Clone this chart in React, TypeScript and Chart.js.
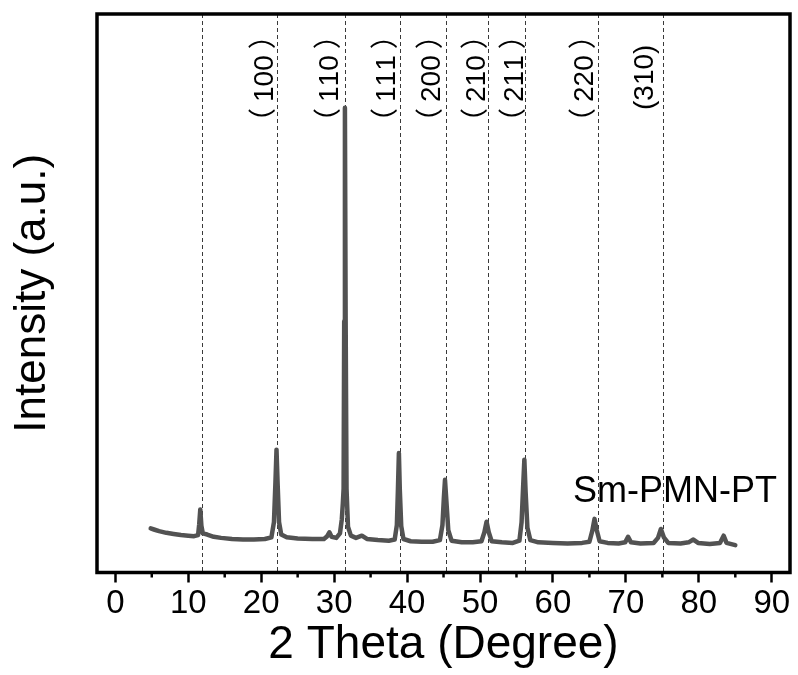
import { useEffect, useRef } from "react";
import { Chart, registerables } from "chart.js";

Chart.register(...registerables);

// ---- data ----
const twoTheta = [
  4.85, 5.3, 6.0, 7.0, 8.0, 9.0, 10.0, 10.8, 11.35, 11.5, 11.65, 11.8, 12.0, 12.6, 13.5, 14.5,
  16.0, 17.5, 19.0, 20.5, 21.4, 21.75, 21.95, 22.1, 22.25, 22.45, 22.75, 23.5, 25.0, 27.0, 28.6,
  29.05, 29.35, 29.65, 30.3, 30.8, 31.05, 31.2, 31.3, 31.38, 31.48, 31.58, 31.7, 31.9, 32.3, 33.0,
  33.8, 34.5, 36.0, 37.5, 38.3, 38.6, 38.75, 38.88, 39.0, 39.2, 39.5, 40.5, 42.0, 43.5, 44.5,
  44.85, 45.05, 45.2, 45.38, 45.65, 46.1, 47.5, 49.0, 50.2, 50.6, 50.9, 51.2, 51.6, 53.0, 54.5,
  55.4, 55.7, 55.9, 56.08, 56.25, 56.5, 56.9, 58.0, 60.0, 62.0, 64.0, 65.0, 65.4, 65.7, 66.0,
  66.4, 67.5, 69.0, 69.9, 70.3, 70.7, 72.0, 73.8, 74.4, 74.8, 75.2, 75.8, 77.5, 78.6, 79.25,
  79.9, 81.5, 82.9, 83.4, 83.8, 85.0,
];
const intensity = [
  7.9, 7.7, 7.4, 7.1, 6.9, 6.7, 6.6, 6.5, 6.7, 8.6, 11.3, 8.4, 7.0, 6.8, 6.4, 6.2,
  6.0, 5.9, 5.9, 6.0, 6.3, 9.0, 16.0, 22.0, 16.0, 9.0, 6.8, 6.3, 6.1, 6.0, 6.0,
  6.5, 7.2, 6.4, 6.2, 7.0, 9.5, 12.5, 15.0, 45.0, 83.2, 45.0, 15.0, 8.2, 6.6, 6.2,
  6.6, 6.0, 5.8, 5.7, 5.9, 8.5, 15.0, 21.4, 15.0, 8.3, 6.0, 5.6, 5.5, 5.5, 5.8,
  8.5, 13.5, 16.6, 13.0, 7.6, 5.7, 5.4, 5.4, 5.6, 7.2, 9.1, 7.2, 5.6, 5.4, 5.3,
  5.7, 9.0, 15.0, 20.2, 14.5, 8.0, 5.8, 5.4, 5.3, 5.2, 5.3, 5.5, 7.5, 9.6, 7.6,
  5.6, 5.3, 5.2, 5.4, 6.4, 5.4, 5.2, 5.3, 6.2, 7.8, 6.3, 5.3, 5.2, 5.4, 5.9,
  5.3, 5.1, 5.3, 6.6, 5.3, 4.9,
];

const xTickValues = [0, 10, 20, 30, 40, 50, 60, 70, 80, 90];
const xMinorTickValues = [5, 15, 25, 35, 45, 55, 65, 75, 85];
const refLines = [11.9, 22.13, 31.5, 39.04, 45.3, 51.15, 56.18, 66.15, 75.06];
const hklLabels = ["", "（100）", "（110）", "（111）", "（200）", "（210）", "（211）", "（220）", "(310)"];
const sampleName = "Sm-PMN-PT";
const xTitle = "2 Theta (Degree)";
const yTitle = "Intensity (a.u.)";

// ---- style ----
const FONT = '"Liberation Sans", sans-serif';
const CJK_FONT = '"Noto Sans CJK SC", sans-serif';
const labelDx = [0, -3.5, -7, -5, -5.7, -3, -2, -4.7, -9.7];
const labelAnchorY = [0, 136, 136, 136, 136, 136, 136, 136, 110];
const LABEL_SIZE = 28;
const BRACKET_GAP = 6;

const decor = {
  id: "decor",
  beforeDatasetsDraw(chart: any) {
    const { ctx, chartArea: a, scales } = chart;
    const x = scales.x;
    ctx.save();
    ctx.beginPath();
    ctx.rect(a.left, a.top, a.right - a.left, a.bottom - a.top);
    ctx.clip();
    ctx.strokeStyle = "#3a3a3a";
    ctx.lineWidth = 1;
    ctx.setLineDash([4, 3]);
    refLines.forEach((v) => {
      const px = Math.round(x.getPixelForValue(v)) + 0.5;
      ctx.beginPath();
      ctx.moveTo(px, a.top);
      ctx.lineTo(px, a.bottom);
      ctx.stroke();
    });
    ctx.restore();
  },
  afterDraw(chart: any) {
    const { ctx, chartArea: a, scales } = chart;
    const x = scales.x;
    const y = scales.y;
    ctx.save();
    // frame
    ctx.strokeStyle = "#000";
    ctx.lineWidth = 3.5;
    ctx.strokeRect(a.left, a.top, a.right - a.left, a.bottom - a.top);
    // minor ticks
    ctx.lineWidth = 2.5;
    xMinorTickValues.forEach((v) => {
      const px = x.getPixelForValue(v);
      ctx.beginPath();
      ctx.moveTo(px, a.bottom);
      ctx.lineTo(px, a.bottom + 5);
      ctx.stroke();
    });
    // hkl labels (full-width brackets from the CJK font, digits from Liberation Sans)
    ctx.fillStyle = "#000";
    ctx.textBaseline = "alphabetic";
    ctx.textAlign = "left";
    hklLabels.forEach((t, i) => {
      if (!t) return;
      const px = x.getPixelForValue(refLines[i]) + labelDx[i];
      ctx.save();
      ctx.translate(px, labelAnchorY[i]);
      ctx.rotate(-Math.PI / 2);
      let cx = 0;
      const chars = Array.from(t);
      chars.forEach((ch, k) => {
        const cjk = ch === "（" || ch === "）";
        if (ch === "）") cx += BRACKET_GAP;
        ctx.font = `${LABEL_SIZE}px ${cjk ? CJK_FONT : FONT}`;
        ctx.fillText(ch, cx, 0);
        cx += ctx.measureText(ch).width;
        if (ch === "（") cx += BRACKET_GAP;
      });
      ctx.restore();
    });
    // sample name
    ctx.font = `36px ${FONT}`;
    ctx.fillText(sampleName, x.getPixelForValue(62.76), y.getPixelForValue(12.6));
    // y title
    ctx.font = `44px ${FONT}`;
    ctx.textAlign = "center";
    ctx.textBaseline = "middle";
    ctx.save();
    ctx.translate(33, (a.top + a.bottom) / 2);
    ctx.rotate(-Math.PI / 2);
    ctx.fillText(yTitle, 0, 0);
    ctx.restore();
    ctx.restore();
  },
};

export default function App() {
  const ref = useRef<HTMLCanvasElement | null>(null);
  useEffect(() => {
    if (!ref.current) return;
    const chart = new Chart(ref.current, {
      type: "line",
      data: {
        datasets: [
          {
            data: twoTheta.map((v, i) => ({ x: v, y: intensity[i] })),
            borderColor: "#525252",
            borderWidth: 4.5,
            pointRadius: 0,
            tension: 0,
            borderJoinStyle: "round",
            borderCapStyle: "round",
            fill: false,
          },
        ],
      },
      options: {
        animation: false,
        responsive: true,
        maintainAspectRatio: false,
        layout: { padding: { left: 97, top: 14, right: 8, bottom: 0 } },
        plugins: { legend: { display: false }, tooltip: { enabled: false } },
        scales: {
          x: {
            type: "linear",
            min: -2.51,
            max: 92.5,
            afterBuildTicks: (s: any) => {
              s.ticks = xTickValues.map((v) => ({ value: v }));
            },
            afterFit: (s: any) => {
              s.height = 102.5;
            },
            grid: {
              drawOnChartArea: false,
              drawTicks: true,
              tickLength: 10,
              tickWidth: 2.5,
              tickColor: "#000",
            },
            border: { display: false },
            ticks: {
              color: "#000",
              font: { family: FONT, size: 33 },
              padding: 2,
              maxRotation: 0,
              autoSkip: false,
            },
            title: {
              display: true,
              text: xTitle,
              color: "#000",
              font: { family: FONT, size: 46 },
              padding: { top: 0, bottom: 2 },
            },
          },
          y: {
            type: "linear",
            display: false,
            min: 0,
            max: 100,
          },
        },
      },
      plugins: [decor],
    });
    return () => chart.destroy();
  }, []);
  return (
    <div style={{ position: "fixed", left: 0, top: 0, width: 798, height: 675, background: "#fff" }}>
      <canvas ref={ref} />
    </div>
  );
}
